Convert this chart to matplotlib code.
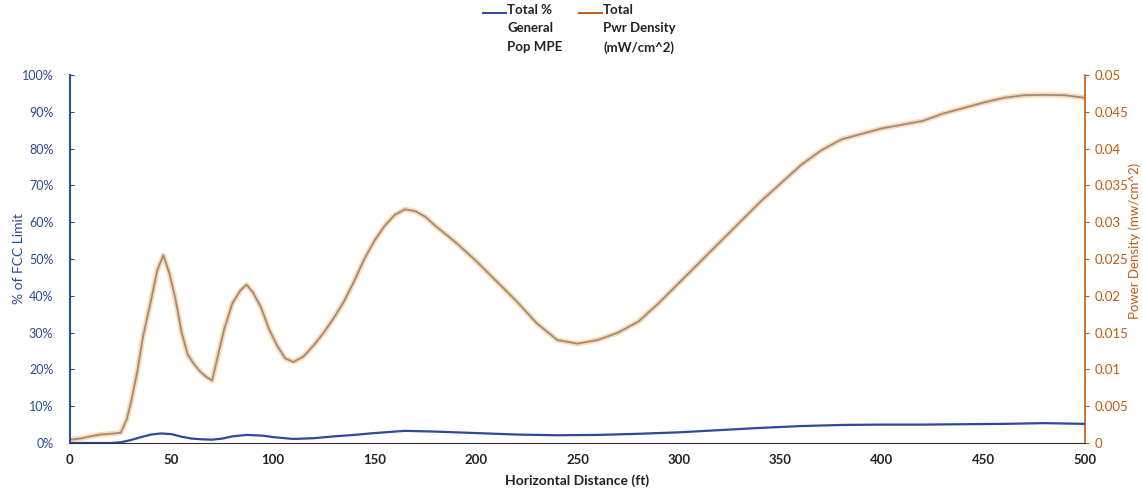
import matplotlib.pyplot as plt
from matplotlib.lines import Line2D
from matplotlib.ticker import PercentFormatter

plt.rcParams['font.family'] = ['Lato', 'DejaVu Sans']

# orange series, read as % of the right axis full scale (0.05 mW/cm^2)
dist_pd = [0, 5, 10, 15, 20, 25, 28, 30, 33, 36, 40, 43, 46, 49, 52, 55, 58, 61, 64, 67,
           70, 73, 76, 80, 84, 87, 90, 94, 98, 102, 106, 110, 115, 120, 125, 130, 135, 140,
           145, 150, 155, 160, 165, 170, 175, 180, 190, 200, 210, 220, 230, 240, 250, 260,
           270, 280, 290, 300, 310, 320, 330, 340, 350, 360, 370, 380, 390, 400, 410, 420,
           430, 440, 450, 460, 470, 480, 490, 500]
pd_pct = [0.9, 1.2, 1.8, 2.3, 2.5, 2.8, 6.5, 11, 19, 29, 39, 47, 51, 46, 39, 30, 24, 21.5,
          19.5, 18, 17, 24, 31, 38, 41.5, 43, 41, 37, 31, 26.5, 23, 22, 23.5, 26.5, 30, 34,
          38.5, 44, 50, 55, 59, 62, 63.5, 63, 61.5, 59, 54.5, 49.5, 44, 38.5, 32.5, 28, 27,
          28, 30, 33, 38, 43.5, 49, 54.5, 60, 65.5, 70.5, 75.5, 79.5, 82.5, 84, 85.5, 86.5,
          87.5, 89.5, 91, 92.5, 93.8, 94.5, 94.6, 94.5, 93.8]
pwr_density = [p * 0.0005 for p in pd_pct]

# blue series, % of general population MPE
dist_mpe = [0, 10, 20, 25, 30, 35, 40, 45, 50, 55, 60, 65, 70, 75, 80, 87, 95, 100, 110,
            120, 130, 140, 150, 165, 180, 200, 220, 240, 260, 280, 300, 320, 340, 360, 380,
            400, 420, 440, 460, 480, 500]
mpe_pct = [0, 0, 0, 0.2, 0.8, 1.6, 2.3, 2.6, 2.4, 1.7, 1.2, 1.0, 0.9, 1.2, 1.8, 2.2, 2.0,
           1.6, 1.1, 1.3, 1.8, 2.2, 2.7, 3.3, 3.1, 2.7, 2.3, 2.1, 2.2, 2.5, 2.9, 3.5, 4.1,
           4.6, 4.9, 5.0, 5.0, 5.1, 5.2, 5.4, 5.2]

blue = '#2b4a9c'
orange = '#c55a11'
W, H = 1143, 492

fig = plt.figure(figsize=(11.43, 4.92), dpi=100)
ax = fig.add_axes([70 / W, 1 - 443 / H, 1015 / W, 368 / H])
ax2 = ax.twinx()

ax2.plot(dist_pd, pwr_density, color='#f8d9b8', lw=3.8, solid_capstyle='round')
ax2.plot(dist_pd, pwr_density, color='#a58a72', lw=1.3)
ax.plot(dist_mpe, mpe_pct, color=blue, lw=1.6)
ax.set_zorder(ax2.get_zorder() + 1)
ax.patch.set_visible(False)

ax.set_xlim(0, 500)
ax.set_ylim(0, 100)
ax2.set_ylim(0, 0.05)
ax.set_xticks(range(0, 501, 50))
ax.set_yticks(range(0, 101, 10))
ax.yaxis.set_major_formatter(PercentFormatter(decimals=0))
ax2.set_yticks([i * 0.005 for i in range(11)])
ax2.set_yticklabels(['0', '0.005', '0.01', '0.015', '0.02', '0.025', '0.03', '0.035',
                     '0.04', '0.045', '0.05'])

for a in (ax, ax2):
    a.spines['top'].set_visible(False)
ax.spines['left'].set_color(blue)
ax.spines['left'].set_linewidth(1.5)
ax.spines['right'].set_visible(False)
ax.spines['bottom'].set_color('#333333')
ax2.spines['left'].set_visible(False)
ax2.spines['bottom'].set_visible(False)
ax2.spines['right'].set_color(orange)
ax2.spines['right'].set_linewidth(1.2)

ax.tick_params(axis='x', length=0, pad=8, labelsize=9.5, labelcolor='#222222')
for lab in ax.get_xticklabels():
    lab.set_fontweight('bold')
ax.tick_params(axis='y', length=3, direction='in', color=blue, labelcolor=blue,
               labelsize=9, pad=12)
ax2.tick_params(axis='y', length=3, color=orange, labelcolor=orange, labelsize=9.5, pad=4)

ax.set_xlabel('Horizontal Distance (ft)', fontsize=10, fontweight='bold', color='#222222',
              labelpad=6)
ax.set_ylabel('% of FCC Limit', fontsize=10, color=blue)
ax.yaxis.set_label_coords(-45 / 1015, 0.5)
fig.text(1135 / W, 1 - 241 / H, 'Power Density (mw/cm^2)', rotation=90, ha='center',
         va='center', fontsize=9.5, color=orange)

# legend drawn by hand so the handles sit on the first text line
leg_items = [(483, 506, 507, blue, 'Total %\nGeneral\nPop MPE'),
             (579, 602, 603, orange, 'Total\nPwr Density\n(mW/cm^2)')]
for x0, x1, xt, col, txt in leg_items:
    fig.add_artist(Line2D([x0 / W, x1 / W], [1 - 13 / H, 1 - 13 / H], color=col, lw=1.4))
    fig.text(xt / W, 1 - 4 / H, txt, ha='left', va='top', fontsize=9.5, fontweight='bold',
             color='#222222', linespacing=1.65)

fig.savefig('out.png', dpi=100)
